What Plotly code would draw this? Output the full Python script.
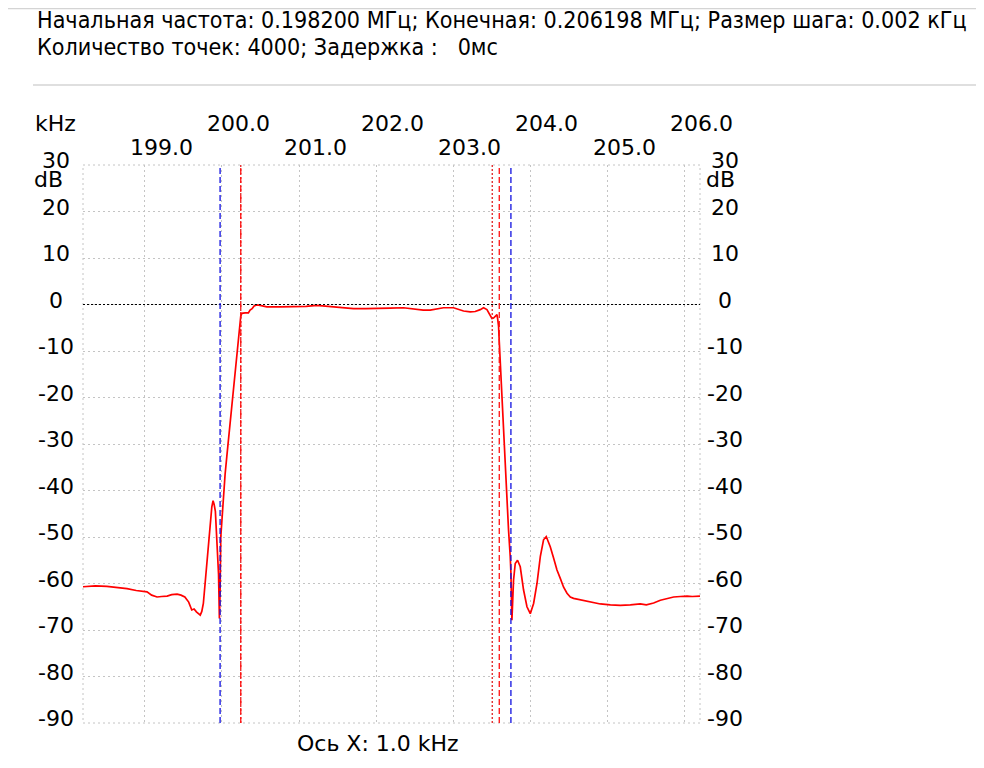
import plotly.graph_objects as go

# Filter response: frequency (kHz) / level (dB)
freq_khz = [
    198.20, 198.36, 198.51, 198.63, 198.77, 198.89, 199.03, 199.09, 199.16,
    199.22, 199.29, 199.35, 199.42, 199.47, 199.52, 199.57, 199.61, 199.64,
    199.67, 199.72, 199.74, 199.76, 199.78, 199.80, 199.82, 199.85, 199.87,
    199.886, 199.90, 199.916, 199.93, 199.942, 199.957, 199.968, 199.977,
    199.986, 199.999, 200.02, 200.042, 200.064, 200.085, 200.107, 200.129,
    200.149, 200.171, 200.193, 200.204, 200.214, 200.23, 200.245, 200.258,
    200.301, 200.344, 200.366, 200.392, 200.418, 200.453, 200.496, 200.535,
    200.583, 200.755, 200.972, 201.092, 201.231, 201.313, 201.404, 201.533,
    201.706, 201.858, 202.009, 202.182, 202.354, 202.441, 202.528, 202.61,
    202.701, 202.778, 202.873, 203.003, 203.064, 203.133, 203.219, 203.284,
    203.349, 203.392, 203.436, 203.466, 203.501, 203.522, 203.544, 203.566,
    203.576, 203.587, 203.596, 203.609, 203.631, 203.651, 203.673, 203.695,
    203.716, 203.738, 203.747, 203.76, 203.771, 203.781, 203.803, 203.833,
    203.868, 203.911, 203.955, 203.998, 204.041, 204.085, 204.128, 204.17,
    204.205, 204.257, 204.30, 204.344, 204.387, 204.43, 204.474, 204.517,
    204.559, 204.646, 204.733, 204.815, 204.906, 205.036, 205.165, 205.295,
    205.424, 205.502, 205.597, 205.684, 205.762, 205.856, 205.943, 206.03,
    206.099, 206.198,
]
level_db = [
    -60.7, -60.5, -60.6, -60.8, -61.1, -61.5, -61.8, -62.5, -62.9,
    -62.8, -62.7, -62.4, -62.3, -62.5, -62.9, -64.0, -65.7, -65.5,
    -66.1, -66.8, -66.0, -64.3, -60.5, -56.4, -51.5, -47.0, -43.5,
    -42.2, -43.0, -44.5, -50.0, -55.0, -58.0, -67.5, -62.0,
    -50.0, -46.5, -41.3, -36.5, -32.7, -29.0, -25.4, -21.5,
    -17.6, -13.8, -10.4, -8.5, -7.5, -5.0, -2.5, -1.9,
    -1.8, -1.8, -1.2, -0.9, -0.3, -0.1, -0.2, -0.4,
    -0.5, -0.5, -0.5, -0.4, -0.2, -0.3, -0.4, -0.6,
    -0.9, -0.9, -0.9, -0.8, -0.7, -0.9, -1.1, -1.2,
    -1.2, -1.0, -0.7, -0.7, -1.0, -1.4, -1.6, -1.5,
    -1.1, -0.7, -1.1, -2.0, -3.0, -2.9, -2.5, -2.2,
    -3.2, -4.7, -8.0, -12.6, -19.8, -27.0, -34.0, -42.7,
    -48.5, -54.2, -57.8, -67.9, -63.0, -59.3, -55.7, -55.0,
    -56.4, -61.4, -65.0, -66.5, -64.3, -60.0, -54.2, -50.6,
    -49.9, -52.1, -54.5, -57.1, -58.9, -60.8, -62.1, -62.9,
    -63.2, -63.5, -63.7, -64.1, -64.4, -64.6, -64.7, -64.6,
    -64.4, -64.6, -64.2, -63.6, -63.3, -62.9, -62.8, -62.7,
    -62.8, -62.7,
]

start_khz = 198.2
stop_khz = 206.198
db_min, db_max = -90, 30

# marker positions (kHz)
blue_markers = [199.977, 203.747]
red_dash_markers = [200.245, 203.596]
red_dot_markers = [200.245, 203.505]

x_ticks = [199, 200, 201, 202, 203, 204, 205, 206]
x_tick_labels = ["199.0", "200.0", "201.0", "202.0", "203.0", "204.0", "205.0", "206.0"]
y_ticks = [30, 20, 10, 0, -10, -20, -30, -40, -50, -60, -70, -80, -90]

header_lines = [
    "Начальная частота: 0.198200 МГц; Конечная: 0.206198 МГц; Размер шага: 0.002 кГц",
    "Количество точек: 4000; Задержка :   0мс",
]
x_axis_note = "Ось X: 1.0 kHz"

# page geometry in pixels (the page body adds an 8px margin around the figure)
OFF = 8
W, H = 984 - 2 * OFF, 768 - 2 * OFF
L, R, T, B = 83, 700, 165, 723  # plot area on the page


def px_x(px):
    return (px - L) / (R - L)


def px_y(py):
    return (B - py) / (B - T)


AXIS_FONT = dict(family="DejaVu Sans", size=22, color="black")
GRID = "#c4c4c4"

fig = go.Figure()
fig.add_trace(
    go.Scatter(
        x=freq_khz,
        y=level_db,
        mode="lines",
        line=dict(color="#ff0000", width=1.7),
        hoverinfo="skip",
    )
)

shapes = []
# dotted frame around the plot
shapes.append(dict(type="rect", xref="paper", yref="paper", x0=0, x1=1, y0=0, y1=1,
                   line=dict(color=GRID, width=1, dash="2px,3px")))
# 0 dB reference
shapes.append(dict(type="line", xref="paper", yref="y", x0=0, x1=1, y0=0, y1=0,
                   line=dict(color="black", width=1, dash="2px,2px")))
for f in blue_markers:
    shapes.append(dict(type="line", xref="x", yref="paper", x0=f, x1=f, y0=0, y1=1,
                       line=dict(color="#1010e0", width=1.3, dash="6px,3px")))
for f in red_dot_markers:
    shapes.append(dict(type="line", xref="x", yref="paper", x0=f, x1=f, y0=0, y1=1,
                       line=dict(color="#e02020", width=1.3, dash="2px,2px")))
for f in red_dash_markers:
    shapes.append(dict(type="line", xref="x", yref="paper", x0=f, x1=f, y0=0, y1=1,
                       line=dict(color="#ff1010", width=1.3, dash="6px,3px")))
# separator lines of the header block
shapes.append(dict(type="line", xref="paper", yref="paper", x0=px_x(OFF), x1=px_x(984 - OFF),
                   y0=px_y(OFF + 0.5), y1=px_y(OFF + 0.5), line=dict(color="#d4d4d4", width=1.5)))
shapes.append(dict(type="line", xref="paper", yref="paper", x0=px_x(33), x1=px_x(984 - OFF),
                   y0=px_y(85), y1=px_y(85), line=dict(color="#d4d4d4", width=1.5)))

annotations = []
# frequency labels: two staggered rows above the plot
for v, t in zip(x_ticks, x_tick_labels):
    upper = v % 2 == 0
    annotations.append(dict(x=v, xref="x", y=1, yref="paper", text=t, showarrow=False,
                            xshift=16.5, yshift=42 if upper else 18, font=AXIS_FONT,
                            xanchor="center", yanchor="middle"))
annotations.append(dict(x=px_x(55), xref="paper", y=1, yref="paper", text="kHz",
                        showarrow=False, yshift=42, font=AXIS_FONT,
                        xanchor="center", yanchor="middle"))
# dB labels on both sides
for v in y_ticks:
    for xpos in (px_x(56), px_x(725)):
        annotations.append(dict(x=xpos, xref="paper", y=v, yref="y", text=str(v),
                                showarrow=False, yshift=4.5, font=AXIS_FONT,
                                xanchor="center", yanchor="middle"))
for xpos in (px_x(48), px_x(720)):
    annotations.append(dict(x=xpos, xref="paper", y=db_max, yref="y", text="dB",
                            showarrow=False, yshift=-14, font=AXIS_FONT,
                            xanchor="center", yanchor="middle"))
annotations.append(dict(x=px_x(378), xref="paper", y=0, yref="paper", text=x_axis_note,
                        showarrow=False, yshift=-20, font=AXIS_FONT,
                        xanchor="center", yanchor="middle"))
# header text
for line, py in zip(header_lines, (20, 47)):
    annotations.append(dict(x=px_x(35), xref="paper", y=px_y(py), yref="paper", text=line,
                            showarrow=False, font=dict(family="DejaVu Sans Condensed",
                                                       size=23.1, color="black"),
                            xanchor="left", yanchor="middle"))

fig.update_layout(
    width=W,
    height=H,
    margin=dict(l=L - OFF, r=W - (R - OFF), t=T - OFF, b=H - (B - OFF), pad=0),
    paper_bgcolor="white",
    plot_bgcolor="white",
    showlegend=False,
    shapes=shapes,
    annotations=annotations,
    xaxis=dict(range=[start_khz, stop_khz], tickvals=x_ticks, showticklabels=False,
               showgrid=True, gridcolor=GRID, griddash="2px,3px", gridwidth=1,
               zeroline=False, showline=False, ticks="", fixedrange=True),
    yaxis=dict(range=[db_min, db_max], tickvals=y_ticks, showticklabels=False,
               showgrid=True, gridcolor=GRID, griddash="2px,3px", gridwidth=1,
               zeroline=False, showline=False, ticks="", fixedrange=True),
)

fig.write_html("out.html", config=dict(displayModeBar=False))
